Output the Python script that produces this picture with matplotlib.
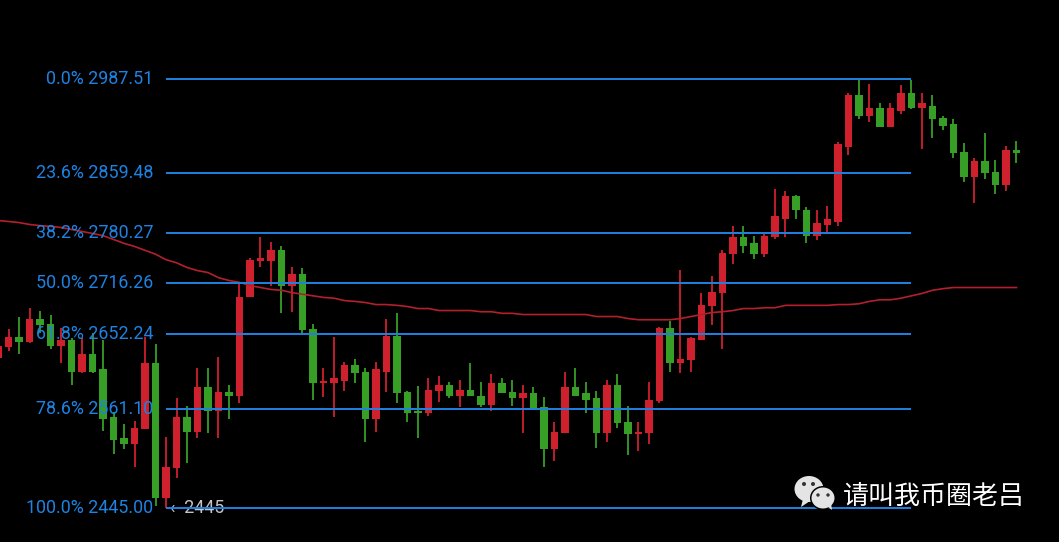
import matplotlib
matplotlib.use("Agg")
import matplotlib.pyplot as plt
from matplotlib.patches import Ellipse, Polygon, Circle

opens = [2623, 2636, 2649, 2642, 2671, 2665, 2638, 2645, 2606, 2627,
         2609, 2551, 2526, 2519, 2537, 2617, 2457, 2491, 2551, 2534,
         2588, 2558, 2581, 2576, 2698, 2744, 2744, 2759, 2713, 2728,
         2658, 2592, 2592, 2595, 2614, 2606, 2548.5, 2606, 2650, 2581,
         2559, 2556, 2583, 2590, 2577, 2584, 2577, 2566, 2592, 2581,
         2574, 2580, 2563, 2513, 2533, 2587, 2580, 2574, 2533, 2590,
         2545, 2531, 2533, 2570, 2660, 2617, 2620, 2645, 2687, 2703,
         2753, 2775, 2767, 2753, 2775, 2799, 2829.5, 2811, 2776, 2791,
         2795, 2895, 2965, 2936, 2948, 2922, 2944, 2968, 2948, 2951,
         2934, 2926, 2887, 2853.5, 2875, 2861, 2843, 2890]
closes = [2638, 2649, 2642, 2671, 2664, 2638, 2645, 2606, 2627, 2606,
          2548.5, 2524, 2519, 2538, 2617, 2457, 2492, 2551, 2534, 2588,
          2558, 2581, 2576, 2699, 2745, 2747.5, 2759, 2713, 2728, 2657,
          2592, 2595, 2598, 2614, 2605, 2548.5, 2609, 2650, 2580, 2556,
          2556, 2584, 2590, 2577, 2584, 2576, 2566, 2592, 2580, 2574,
          2580, 2560, 2513, 2534, 2587, 2577, 2572, 2533, 2590, 2544,
          2531, 2534, 2572, 2660, 2617, 2621, 2647, 2688, 2705, 2755,
          2775, 2764, 2753, 2776, 2802, 2829.5, 2810, 2776, 2794, 2798,
          2898, 2965, 2936, 2948, 2922, 2947, 2968, 2948, 2954, 2932,
          2923, 2886, 2853.5, 2875, 2859, 2843, 2890, 2886]
highs = [2640, 2659, 2673, 2685, 2681.5, 2676.5, 2660, 2647, 2647, 2654,
         2645, 2557, 2542.5, 2547, 2649, 2640.5, 2528, 2574, 2565, 2610,
         2610, 2624.5, 2590, 2718, 2747.5, 2775, 2769, 2763, 2736, 2735,
         2665, 2610, 2648, 2618, 2621, 2611, 2618, 2671.5, 2678, 2582,
         2589, 2598, 2601, 2593, 2596, 2617, 2593, 2603, 2598, 2596,
         2590, 2587, 2575, 2545, 2606, 2610, 2593, 2583, 2596, 2603,
         2564, 2545, 2594, 2661.5, 2669, 2733, 2649, 2704, 2724.5, 2758,
         2789, 2789, 2776, 2778.5, 2838, 2835, 2830, 2815, 2810, 2816,
         2900.5, 2969, 2986, 2981, 2955, 2955, 2979, 2987, 2968, 2965,
         2937, 2932, 2900, 2880, 2913, 2877.5, 2896, 2903]
lows = [2620, 2631, 2628, 2641, 2653, 2634, 2616, 2590, 2605, 2604,
        2535, 2508, 2514, 2492, 2537, 2448, 2445, 2480, 2497, 2527,
        2532, 2526, 2548.5, 2568, 2698, 2737, 2713, 2679, 2680, 2653,
        2572, 2575, 2551, 2583, 2592, 2522, 2534, 2581, 2568, 2545,
        2527, 2553, 2569, 2574, 2563, 2576, 2563, 2558, 2580, 2565,
        2533, 2560, 2492, 2499, 2533, 2576, 2556, 2515, 2522, 2538,
        2507, 2511, 2520, 2568, 2606, 2604, 2606, 2645, 2663, 2634,
        2741, 2754, 2747, 2750, 2772, 2775, 2799, 2767, 2771, 2780,
        2789, 2883, 2932, 2929, 2922, 2922, 2940, 2946, 2892, 2907,
        2917, 2880, 2848, 2819, 2851, 2831, 2835, 2873]
ma_line = [2796.7, 2795.4, 2794, 2791.5, 2790, 2789, 2787.6, 2785, 2782.4, 2779.8,
           2777, 2772, 2767, 2763, 2758, 2753, 2746, 2742, 2736, 2732,
           2729.5, 2723, 2719.4, 2717, 2713, 2710.5, 2708, 2707, 2704, 2702,
           2700, 2698, 2697, 2694, 2693, 2691.5, 2689, 2689, 2688, 2686.5,
           2684, 2684, 2681.5, 2681.5, 2681.5, 2681.5, 2680, 2680, 2678, 2678,
           2676.5, 2676.5, 2676.5, 2676.5, 2676.5, 2676.5, 2676.5, 2674, 2674, 2674,
           2671.5, 2670, 2670, 2670, 2670, 2671.5, 2674, 2676.5, 2679, 2680,
           2681.5, 2684, 2684, 2685, 2685, 2688, 2688, 2688, 2688, 2688,
           2689, 2689, 2690, 2693, 2695, 2695, 2697, 2700, 2703, 2707,
           2709, 2710.5, 2710.5, 2710.5, 2710.5, 2710.5, 2710.5, 2710.5]

fib_prices = [2987.51, 2859.48, 2780.27, 2716.26, 2652.24, 2561.10, 2445.00]
fib_labels = ["0.0% 2987.51", "23.6% 2859.48", "38.2% 2780.27", "50.0% 2716.26",
              "61.8% 2652.24", "78.6% 2561.10", "100.0% 2445.00"]
fib_start = 16
fib_end = 87
low_label = "‹  2445"
watermark = "请叫我币圈老吕"

RED = "#cf202e"
GREEN = "#379f25"
BLUE = "#1e82e2"

plt.rcParams["font.family"] = ["Roboto", "DejaVu Sans"]

fig = plt.figure(figsize=(10.59, 5.42), dpi=100, facecolor="black")
ax = fig.add_axes([0, 0, 1, 1], facecolor="black")
ax.set_yscale("log")
ax.set_xlim(0.19, 101.05)
ax.set_ylim(2406.7, 3100.1)
ax.axis("off")

# candles, red is up and green is down
for i in range(len(opens)):
    color = RED if closes[i] >= opens[i] else GREEN
    ax.vlines(i, lows[i], highs[i], color=color, lw=1.3, zorder=2)
    ax.bar(i, abs(closes[i] - opens[i]), bottom=min(opens[i], closes[i]),
           width=0.74, color=color, lw=0, zorder=3)

ax.plot(range(len(ma_line)), ma_line, color="#b3202c", lw=1.2, zorder=4)

# fibonacci levels
ax.hlines(fib_prices, fib_start, fib_end, color=BLUE, lw=1.4, zorder=5)
trans = ax.get_yaxis_transform()
for price, label in zip(fib_prices, fib_labels):
    ax.text(153.5 / 1059, price, label, color=BLUE, fontsize=12.9, ha="right",
            va="center", transform=trans, zorder=6)
ax.text(169.5 / 1059, fib_prices[-1], low_label, color="#c4c4c4", fontsize=12.9,
        ha="left", va="center", transform=trans, zorder=4)

# wechat icon and watermark, in pixel coordinates
over = fig.add_axes([0, 0, 1, 1], facecolor="none")
over.set_xlim(0, 1059)
over.set_ylim(542, 0)
over.axis("off")
icon = "#e4e4e4"
over.add_patch(Ellipse((809, 489), 29, 26, color=icon, lw=0))
over.add_patch(Polygon([(803, 499), (801, 507), (810, 501)], color=icon, lw=0))
over.add_patch(Ellipse((823, 498), 26, 24, color="black", lw=0))
over.add_patch(Ellipse((823, 498), 23, 21, color=icon, lw=0))
over.add_patch(Polygon([(827, 506), (832, 510), (831, 503)], color=icon, lw=0))
for cx, cy, r, col in [(804, 484, 2, "#333333"), (813, 484, 2, "#333333"),
                       (818, 495, 1.7, "#333333"), (828, 495, 1.7, "#333333")]:
    over.add_patch(Circle((cx, cy), r, color=col, lw=0))
over.text(843, 496.5, watermark, color="white", fontsize=18.7, ha="left", va="center",
          family=["Noto Sans CJK SC", "DejaVu Sans"])

fig.savefig("out.png", dpi=100, facecolor="black")
